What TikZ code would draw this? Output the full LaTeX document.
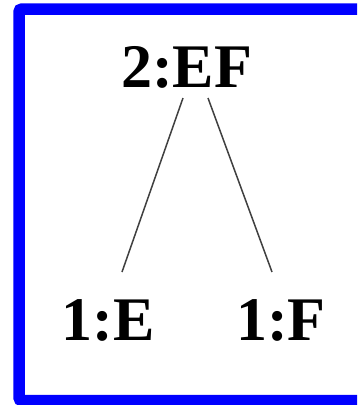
\documentclass[tikz,border=0pt]{standalone}
\usepackage{fontspec}
\setmainfont{Liberation Serif}
\usetikzlibrary{calc}
\begin{document}
\begin{tikzpicture}[x=1pt,y=-1pt,
  lbl/.style={inner sep=0pt,anchor=base,font=\fontsize{62}{70}\selectfont\bfseries},
  edge/.style={draw=black!75,line width=1.5pt}]
\useasboundingbox (0,0) rectangle (357,405);
\clip (0,0) rectangle (357,405);
\fill[white] (0,0) rectangle (357,405);
\draw[blue,line width=11.5pt,rounded corners=3pt] (19,9) rectangle (380,400.5);
\node[lbl] (top) at (186.5,87) {2:EF};
\node[lbl] (e) at (108,340) {1:E};
\node[lbl] (f) at (281,340) {1:F};
\draw[edge] ($(top.base)+(-3.5,11)$) -- ($(e.base)+(14,-68)$);
\draw[edge] ($(top.base)+(21.5,11)$) -- ($(f.base)+(-9,-68)$);
\end{tikzpicture}
\end{document}
